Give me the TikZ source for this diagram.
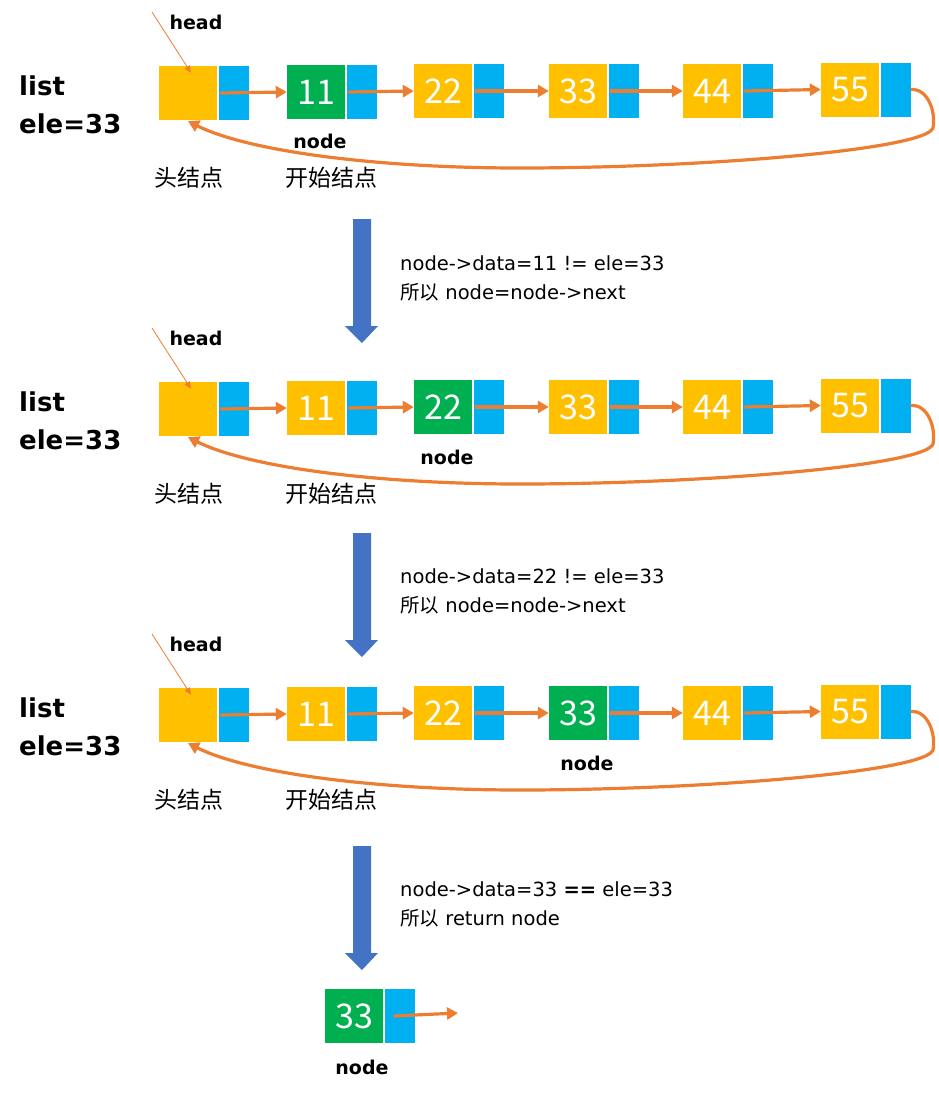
\documentclass[tikz,border=0pt]{standalone}
\usepackage{fontspec}
\setmainfont{DejaVu Sans}
\newfontfamily\cjk{Noto Sans CJK SC}
\usetikzlibrary{arrows.meta}
\definecolor{cy}{HTML}{FFC000}
\definecolor{cb}{HTML}{00B0F0}
\definecolor{cg}{HTML}{00B050}
\definecolor{co}{HTML}{ED7D31}
\definecolor{ca}{HTML}{4472C4}
\begin{document}
\begin{tikzpicture}[x=1pt,y=-1pt,
  databox/.style={rectangle, inner sep=0pt, minimum width=58pt, minimum height=54pt, text=white, font=\cjk\fontsize{34}{34}\selectfont},
  ptrbox/.style={rectangle, inner sep=0pt, minimum width=30pt, minimum height=54pt, fill=cb},
  link/.style={draw=co, line width=3.2pt, -{Triangle[length=11pt,width=12pt]}},
  thinlink/.style={draw=co, line width=0.8pt, -{Triangle[length=7pt,width=6pt]}},
  bigtxt/.style={font=\fontsize{26}{30}\selectfont\bfseries, anchor=west, inner sep=0pt},
  lbl/.style={font=\fontsize{19}{22}\selectfont\bfseries, inner sep=0pt},
  cn/.style={font=\cjk\fontsize{23}{25}\selectfont, inner sep=0pt},
  step text/.style={font=\fontsize{19.5}{22}\selectfont, anchor=west, inner sep=0pt},
  fatarrow/.style={fill=ca}
]
\useasboundingbox (0,0) rectangle (938,1096);

\foreach \r/\dy/\g/\nx in {1/0/1/320, 2/316/2/447, 3/622/3/587} {
  \begin{scope}[shift={(0,\dy)}]
    \node[databox, fill=cy] (d-\r-0) at (188,93) {};
    \node[ptrbox] (p-\r-0) at (233.5,93) {};
    \foreach \i/\v/\x/\y in {1/11/316/92, 2/22/443/91, 3/33/578/91, 4/44/712/91, 5/55/850/89.5} {
      \pgfmathsetmacro{\px}{\x+45.5}
      \ifnum\i=\g
        \node[databox, fill=cg] (d-\r-\i) at (\x,\y) {\v};
      \else
        \node[databox, fill=cy] (d-\r-\i) at (\x,\y) {\v};
      \fi
      \node[ptrbox] (p-\r-\i) at (\px,\y) {};
    }
    \foreach \i [evaluate=\i as \j using int(\i+1)] in {0,...,4} {
      \draw[link] ([xshift=2pt]p-\r-\i.west) -- (d-\r-\j.west);
    }
    \draw[link] (p-\r-5.east) .. controls (928,88) and (936,112) .. (933,128)
       .. controls (925,150) and (700,168) .. (520,168)
       .. controls (380,168) and (250,152) .. ([yshift=-1pt]d-\r-0.south);
    \node[lbl] (hd-\r) at (196,22) {head};
    \coordinate (hs-\r) at (152,12);
    \draw[thinlink] (hs-\r) -- ([xshift=3pt,yshift=-7pt]d-\r-0.north);
    \node[bigtxt] (list-\r) at (19,86) {list};
    \node[bigtxt] (ele-\r) at (19,124) {ele=33};
    \node[lbl] (nd-\r) at (\nx,141) {node};
    \node[cn] (hn-\r) at (189,178) {头结点};
    \node[cn] (sn-\r) at (331,178) {开始结点};
  \end{scope}
}

\foreach \t in {219, 533, 846} {
  \fill[fatarrow] (353,\t) -- (371,\t) -- (371,\t+107) -- (378,\t+107) -- (362,\t+124)
     -- (345,\t+107) -- (353,\t+107) -- cycle;
}

\node[step text] (s1a) at (400,263) {node->data=11 != ele=33};
\node[step text] (s1b) at (400,292) {{\cjk 所以} node=node->next};
\node[step text] (s2a) at (400,576) {node->data=22 != ele=33};
\node[step text] (s2b) at (400,605) {{\cjk 所以} node=node->next};
\node[step text] (s3a) at (400,889) {node->data=33 \textbf{==} ele=33};
\node[step text] (s3b) at (400,918) {{\cjk 所以} return node};

\node[databox, fill=cg] (rd) at (354,1016) {33};
\node[ptrbox] (rp) at (399.5,1016) {};
\coordinate (rend) at (458,1013);
\draw[link] ([xshift=-6pt]rp.center) -- (rend);
\node[lbl] (rn) at (362,1067) {node};
\end{tikzpicture}
\end{document}
